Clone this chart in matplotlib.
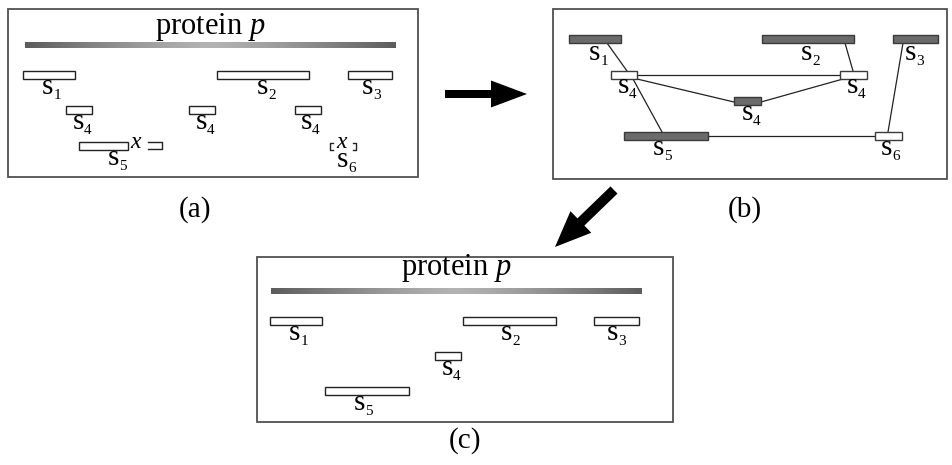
import numpy as np
import matplotlib
matplotlib.use("Agg")
import matplotlib.pyplot as plt
from matplotlib.patches import Rectangle, FancyArrow

plt.rcParams['font.family'] = ['Liberation Serif', 'DejaVu Serif']
plt.rcParams['mathtext.fontset'] = 'custom'
plt.rcParams['mathtext.rm'] = 'Liberation Serif'
plt.rcParams['mathtext.it'] = 'Liberation Serif:italic'

# panel frames: left, top, right, bottom (pixels)
frames = [(8, 9, 418, 177), (553, 9, 947, 179), (257, 257, 673, 422)]
captions = ['(a)', '(b)', '(c)']
caption_xy = [(195, 210), (745, 210), (465, 441)]

# (a) segments aligned to protein p
a_names = ['1', '2', '3', '4', '4', '4', '5']
a_x0 = [23, 217, 348, 66, 189, 295, 79]
a_x1 = [75, 309, 392, 92, 215, 321, 128]
a_y = [71, 71, 71, 106, 106, 106, 142]
a_lab_x = [47, 262, 367, 78, 201, 306, 113]

# (b) graph nodes (dark = fragment in solution, white = alternative)
b_names = ['1', '2', '3', '4', '4', '4', '5', '6']
b_x0 = [569, 762, 893, 611, 840, 734, 624, 875]
b_x1 = [621, 854, 938, 637, 867, 761, 708, 902]
b_y = [35, 35, 35, 71, 71, 97, 132, 132]
b_dark = [True, True, True, False, False, True, True, False]
b_lab = [(594, 60), (806, 60), (910, 60), (623, 93), (852, 93),
         (747, 120), (658, 155), (886, 155)]
b_edges = [((607, 43), (627, 71)), ((637, 75), (840, 75)),
           ((637, 79), (734, 102)), ((761, 102), (843, 79)),
           ((845, 43), (853, 71)), ((903, 43), (888, 132)),
           ((633, 79), (662, 132)), ((708, 136), (875, 136))]

# (c) final assignment
c_names = ['1', '2', '3', '4', '5']
c_x0 = [270, 463, 594, 435, 325]
c_x1 = [322, 556, 639, 461, 409]
c_y = [317, 317, 317, 352, 387]
c_lab_x = [294, 506, 612, 447, 359]

bar_h = 8

fig = plt.figure(figsize=(9.52, 4.65), dpi=100)
ax = fig.add_axes([0, 0, 1, 1])
ax.set_xlim(0, 952)
ax.set_ylim(465, 0)
ax.axis('off')


def label(x, y, sub):
    ax.text(x, y, 's', fontsize=21, ha='center', va='baseline')
    ax.text(x + 10, y + 5, sub, fontsize=11, ha='center', va='baseline')


def protein_bar(x0, x1, y, title_y):
    t = np.linspace(-1, 1, 256)
    grad = 0.36 + 0.34 * (1 - np.abs(t) ** 1.3)
    ax.imshow(np.tile(grad, (2, 1)), cmap='gray', vmin=0, vmax=1, aspect='auto',
              extent=(x0, x1, y + 6, y), zorder=2)
    ax.text((x0 + x1) / 2, title_y, r'protein $p$', fontsize=22,
            ha='center', va='baseline')


for (l, t, r, b) in frames:
    ax.add_patch(Rectangle((l, t), r - l, b - t, fill=False, ec='#505050', lw=1.3))
for txt, (x, y) in zip(captions, caption_xy):
    ax.text(x, y, txt, fontsize=21, ha='center', va='center')

# panel (a)
protein_bar(25, 396, 42, 34)
for n, x0, x1, y, lx in zip(a_names, a_x0, a_x1, a_y, a_lab_x):
    ax.add_patch(Rectangle((x0, y), x1 - x0, bar_h, fc='white', ec='#222222', lw=1))
    label(lx, y + 23, n)
# pieces split by the unknown residue x
ax.text(136, 148, r'$x$', fontsize=17, ha='center', va='baseline')
ax.plot([148, 162, 162, 148], [142, 142, 149, 149], color='#222222', lw=1)
ax.text(342, 148, r'$x$', fontsize=17, ha='center', va='baseline')
ax.plot([333, 330, 330, 333], [143, 143, 150, 150], color='#222222', lw=1)
ax.plot([353, 356, 356, 353], [143, 143, 150, 150], color='#222222', lw=1)
label(342, 167, '6')

# panel (b)
for (p0, p1) in b_edges:
    ax.plot([p0[0], p1[0]], [p0[1], p1[1]], color='#222222', lw=0.9, zorder=1)
for n, x0, x1, y, dk in zip(b_names, b_x0, b_x1, b_y, b_dark):
    ax.add_patch(Rectangle((x0, y), x1 - x0, bar_h, fc='#6b6b6b' if dk else 'white',
                           ec='#3a3a3a', lw=1, zorder=3))
for n, (x, y) in zip(b_names, b_lab):
    label(x, y, n)

# panel (c)
protein_bar(271, 642, 288, 275)
for n, x0, x1, y, lx in zip(c_names, c_x0, c_x1, c_y, c_lab_x):
    ax.add_patch(Rectangle((x0, y), x1 - x0, bar_h, fc='white', ec='#222222', lw=1))
    label(lx, y + 23, n)

# arrows between panels
ax.add_patch(FancyArrow(445, 94, 82, 0, width=8, head_width=27, head_length=36,
                        length_includes_head=True, color='black', lw=0))
ax.add_patch(FancyArrow(614, 190, -59, 57, width=10, head_width=30, head_length=36,
                        length_includes_head=True, color='black', lw=0))

fig.savefig('out.png', dpi=100)
